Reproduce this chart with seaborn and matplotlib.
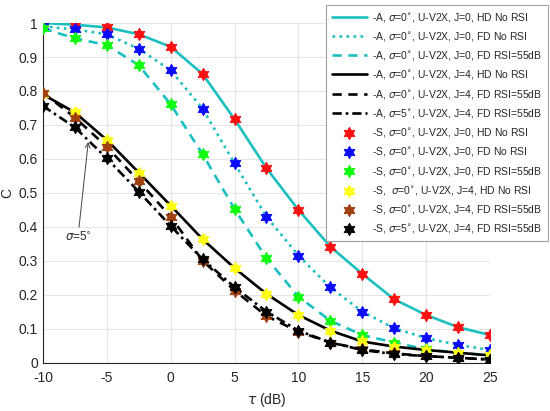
import matplotlib
matplotlib.use("Agg")
import matplotlib.pyplot as plt
from matplotlib.path import Path
import seaborn as sns

tau = [-10, -7.5, -5, -2.5, 0, 2.5, 5, 7.5, 10, 12.5, 15, 17.5, 20, 22.5, 25]

hd_j0 = [1.0, 0.995, 0.987, 0.967, 0.93, 0.85, 0.717, 0.573, 0.45, 0.342, 0.262, 0.187, 0.141, 0.105, 0.082]
fd_j0 = [0.99, 0.981, 0.967, 0.924, 0.861, 0.748, 0.587, 0.43, 0.316, 0.222, 0.151, 0.102, 0.073, 0.053, 0.038]
fd55_j0 = [0.984, 0.955, 0.935, 0.876, 0.761, 0.614, 0.453, 0.308, 0.195, 0.124, 0.082, 0.06, 0.04, 0.03, 0.022]
hd_j4 = [0.79, 0.737, 0.656, 0.56, 0.463, 0.364, 0.279, 0.203, 0.141, 0.095, 0.063, 0.048, 0.038, 0.03, 0.022]
fd55_j4 = [0.795, 0.722, 0.636, 0.535, 0.43, 0.301, 0.213, 0.138, 0.092, 0.06, 0.04, 0.028, 0.02, 0.015, 0.01]
fd55_j4_s5 = [0.756, 0.693, 0.602, 0.504, 0.403, 0.305, 0.223, 0.151, 0.095, 0.06, 0.038, 0.026, 0.02, 0.015, 0.01]

cyan = "#1cbfbf"

line_series = [
    (hd_j0, cyan, "-", r"-A, $\sigma$=0$^{\circ}$, U-V2X, J=0, HD No RSI"),
    (fd_j0, cyan, ":", r"-A, $\sigma$=0$^{\circ}$, U-V2X, J=0, FD No RSI"),
    (fd55_j0, cyan, (0, (3.5, 2.5)), r"-A, $\sigma$=0$^{\circ}$, U-V2X, J=0, FD RSI=55dB"),
    (hd_j4, "black", "-", r"-A, $\sigma$=0$^{\circ}$, U-V2X, J=4, HD No RSI"),
    (fd55_j4, "black", (0, (3.5, 2.5)), r"-A, $\sigma$=0$^{\circ}$, U-V2X, J=4, FD RSI=55dB"),
    (fd55_j4_s5, "black", (0, (3.5, 1.5, 1, 1.5)), r"-A, $\sigma$=5$^{\circ}$, U-V2X, J=4, FD RSI=55dB"),
]

marker_series = [
    (hd_j0, "#ff1010", r"-S, $\sigma$=0$^{\circ}$, U-V2X, J=0, HD No RSI"),
    (fd_j0, "#0a0aff", r"-S, $\sigma$=0$^{\circ}$, U-V2X, J=0, FD No RSI"),
    (fd55_j0, "#10ff10", r"-S, $\sigma$=0$^{\circ}$, U-V2X, J=0, FD RSI=55dB"),
    (hd_j4, "#ffff10", r"-S,  $\sigma$=0$^{\circ}$, U-V2X, J=4, HD No RSI"),
    (fd55_j4, "#a0400f", r"-S, $\sigma$=0$^{\circ}$, U-V2X, J=4, FD RSI=55dB"),
    (fd55_j4_s5, "black", r"-S, $\sigma$=5$^{\circ}$, U-V2X, J=4, FD RSI=55dB"),
]

sns.set_style("whitegrid")
plt.rcParams["font.family"] = ["Liberation Sans", "DejaVu Sans"]
plt.rcParams["mathtext.fontset"] = "dejavusans"
plt.rcParams["axes.unicode_minus"] = False

hexagram = Path.unit_regular_star(6, 0.58)

fig = plt.figure(figsize=(5.5, 4.11), dpi=100)
ax = fig.add_axes([0.078, 0.117, 0.813, 0.827])

for y, c, ls, lab in line_series:
    sns.lineplot(x=tau, y=y, ax=ax, color=c, linestyle=ls, linewidth=1.9, label=lab, zorder=2)

for y, c, lab in marker_series:
    sns.scatterplot(x=tau, y=y, ax=ax, color=c, marker=hexagram, s=80,
                    edgecolor=c, linewidth=0.6, label=lab, zorder=3)

ax.set_xlim(-10, 25)
ax.set_ylim(0, 1)
ax.set_xticks([-10, -5, 0, 5, 10, 15, 20, 25])
ax.set_yticks([0, 0.1, 0.2, 0.3, 0.4, 0.5, 0.6, 0.7, 0.8, 0.9, 1])
ax.set_yticklabels(["0", "0.1", "0.2", "0.3", "0.4", "0.5", "0.6", "0.7", "0.8", "0.9", "1"])
ax.tick_params(labelsize=10, colors="#262626", length=0)
ax.tick_params(axis="y", pad=3.5)
ax.tick_params(axis="x", pad=6)
ax.grid(True, color="#e6e6e6", linewidth=0.8)
for side in ["top", "right"]:
    ax.spines[side].set_visible(False)
for side in ["left", "bottom"]:
    ax.spines[side].set_color("#262626")
    ax.spines[side].set_linewidth(0.8)

ax.set_xlabel(r"$\tau$ (dB)", fontsize=10, color="#262626")
ax.set_ylabel("C", fontsize=10, color="#262626")
ax.yaxis.set_label_coords(-0.064, 0.5)

ax.annotate(r"$\sigma$=5$^{\circ}$", xy=(-6.45, 0.65), xytext=(-8.3, 0.36),
            fontsize=8.5, color="#262626",
            arrowprops=dict(arrowstyle="->", color="#444444", lw=0.7, shrinkA=0, shrinkB=0))

leg = ax.legend(loc="upper right", bbox_to_anchor=(548 / 550, 1 - 5 / 411),
                bbox_transform=fig.transFigure, borderaxespad=0, fontsize=7.5,
                fancybox=False, framealpha=1, edgecolor="#a0a0a0",
                handlelength=3.4, labelspacing=0.6, borderpad=0.55, handletextpad=0.5)
leg.get_frame().set_linewidth(0.8)

fig.savefig("out.png", dpi=100)
